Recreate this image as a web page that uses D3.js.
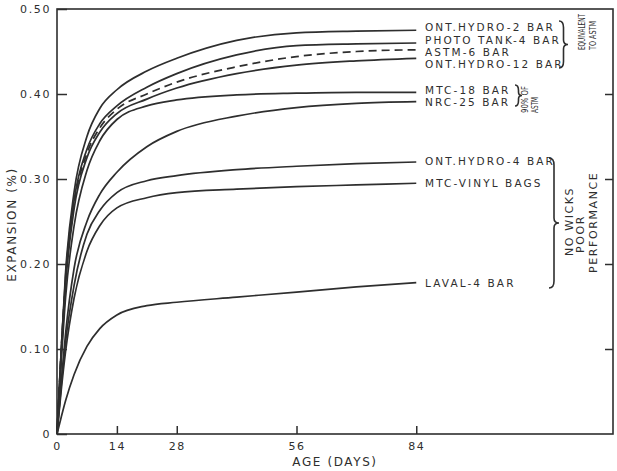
<!DOCTYPE html>
<html><head><meta charset="utf-8">
<script src="https://cdn.jsdelivr.net/npm/d3@7"></script>
<style>body{margin:0;background:#fff}</style>
</head><body>
<svg id="c" width="617" height="471"></svg>
<script>
// ---- data ----
const days = [0, 1, 2, 4, 7, 10, 14, 21, 28, 42, 56, 70, 84];
const seriesNames = ["ONT.HYDRO-2 BAR","PHOTO TANK-4 BAR","ASTM-6 BAR","ONT.HYDRO-12 BAR","MTC-18 BAR","NRC-25 BAR","ONT.HYDRO-4 BAR","MTC-VINYL BAGS","LAVAL-4 BAR"];
const ontHydro2  = [0, 0.100, 0.190, 0.285, 0.350, 0.383, 0.405, 0.427, 0.442, 0.463, 0.472, 0.474, 0.475];
const photoTank4 = [0, 0.100, 0.185, 0.275, 0.335, 0.365, 0.386, 0.408, 0.424, 0.446, 0.457, 0.459, 0.460];
const astm6      = [0, 0.100, 0.180, 0.270, 0.330, 0.360, 0.382, 0.400, 0.414, 0.432, 0.444, 0.450, 0.452];
const ontHydro12 = [0, 0.095, 0.175, 0.265, 0.325, 0.355, 0.377, 0.394, 0.407, 0.424, 0.434, 0.439, 0.442];
const mtc18      = [0, 0.085, 0.160, 0.245, 0.310, 0.345, 0.370, 0.386, 0.393, 0.399, 0.401, 0.402, 0.402];
const nrc25      = [0, 0.062, 0.118, 0.195, 0.250, 0.282, 0.308, 0.338, 0.356, 0.374, 0.384, 0.389, 0.391];
const ontHydro4  = [0, 0.058, 0.108, 0.175, 0.235, 0.263, 0.284, 0.298, 0.304, 0.311, 0.315, 0.318, 0.320];
const mtcVinyl   = [0, 0.052, 0.097, 0.160, 0.215, 0.245, 0.266, 0.278, 0.284, 0.288, 0.291, 0.293, 0.295];
const laval4     = [0, 0.020, 0.039, 0.070, 0.103, 0.124, 0.140, 0.151, 0.155, 0.161, 0.167, 0.173, 0.178];
const seriesValues = [ontHydro2, photoTank4, astm6, ontHydro12, mtc18, nrc25, ontHydro4, mtcVinyl, laval4];
const dashedSeries = ["ASTM-6 BAR"];
const xTicks = [0, 14, 28, 56, 84];
const yTicks = [0, 0.10, 0.20, 0.30, 0.40, 0.50];
const xTitle = "AGE (DAYS)";
const yTitle = "EXPANSION (%)";
const groupNotes = [
  {lines: ["EQUIVALENT", "TO ASTM"]},
  {lines: ["90% OF", "ASTM"]},
  {lines: ["NO WICKS", "POOR", "PERFORMANCE"]}
];

// ---- layout ----
const ink = "#2e2e2e";
const font = "'DejaVu Sans', sans-serif";
const svg = d3.select("#c");
const x = d3.scaleLinear().domain([0, 130]).range([57, 613]);
const y = d3.scaleLinear().domain([0, 0.5]).range([434, 9]);

// frame
svg.append("rect").attr("x", x(0)).attr("y", y(0.5))
  .attr("width", x(130) - x(0)).attr("height", y(0) - y(0.5))
  .attr("fill", "none").attr("stroke", ink).attr("stroke-width", 1.6);

function styleAxis(g) {
  g.select(".domain").remove();
  g.selectAll("line").attr("stroke", ink).attr("stroke-width", 1.5);
  g.selectAll("text").attr("fill", ink).attr("font-family", font)
    .attr("font-size", 11).attr("letter-spacing", 1.6);
}

svg.append("g").attr("transform", `translate(${x(0)},0)`)
  .call(d3.axisLeft(y).tickValues(yTicks).tickSize(-10).tickPadding(6)
    .tickFormat(d => d === 0 ? "0" : d3.format(".2f")(d)))
  .call(styleAxis);

svg.append("g").attr("transform", `translate(${x(130)},0)`)
  .call(d3.axisRight(y).tickValues(yTicks.filter(v => v > 0 && v < 0.5)).tickSize(-8).tickFormat(""))
  .call(styleAxis);

svg.append("g").attr("transform", `translate(0,${y(0)})`)
  .call(d3.axisBottom(x).tickValues(xTicks).tickSize(-8).tickPadding(8))
  .call(styleAxis);

// axis titles
svg.append("text").attr("x", (x(0) + x(130)) / 2).attr("y", 466).attr("text-anchor", "middle")
  .attr("font-family", font).attr("font-size", 12).attr("letter-spacing", 1.6)
  .attr("fill", ink).text(xTitle);
svg.append("text").attr("transform", `translate(16,${(y(0) + y(0.5)) / 2 + 3}) rotate(-90)`)
  .attr("text-anchor", "middle").attr("font-family", font).attr("font-size", 12)
  .attr("letter-spacing", 1.6).attr("fill", ink).text(yTitle);

// curves
const line = d3.line().x(d => x(d[0])).y(d => y(d[1])).curve(d3.curveMonotoneX);
seriesNames.forEach((name, i) => {
  const pts = days.map((dd, j) => [dd, seriesValues[i][j]]);
  svg.append("path").datum(pts).attr("d", line)
    .attr("fill", "none").attr("stroke", ink).attr("stroke-width", 1.7)
    .attr("stroke-dasharray", dashedSeries.includes(name) ? "8,5" : null);
});

// series labels
const labelY = [27, 40, 52, 64, 90, 102, 161, 183, 283];
seriesNames.forEach((name, i) => {
  svg.append("text").attr("x", 425).attr("y", labelY[i]).attr("dy", "0.36em")
    .attr("font-family", font).attr("font-size", 10.5).attr("letter-spacing", 2.1)
    .attr("fill", ink).text(name);
});

// braces
function bracePath(bx, y1, y2, w) {
  const ym = (y1 + y2) / 2, h = w / 2;
  return `M${bx},${y1} Q${bx + h},${y1} ${bx + h},${y1 + h + 2} L${bx + h},${ym - h}` +
    ` Q${bx + h},${ym} ${bx + w},${ym} Q${bx + h},${ym} ${bx + h},${ym + h}` +
    ` L${bx + h},${y2 - h - 2} Q${bx + h},${y2} ${bx},${y2}`;
}
const braces = [[559, 21, 68, 9], [515, 85, 106, 7], [549, 158, 288, 10]];
braces.forEach(b => svg.append("path").attr("d", bracePath(...b))
  .attr("fill", "none").attr("stroke", ink).attr("stroke-width", 1.6));

// group notes (rotated): [baseline x, start y, condensed length (0 = natural), font size]
const notePos = [
  [[585, 50, 36, 9.5], [596, 50, 29, 9.5]],
  [[528, 113, 27, 9.5], [538, 113, 16, 9.5]],
  [[573, 256, 0, 11], [584, 253, 0, 11], [597, 273, 0, 11]]
];
groupNotes.forEach((g, gi) => {
  g.lines.forEach((t, li) => {
    const [tx, ty, len, fs] = notePos[gi][li];
    const el = svg.append("text").attr("transform", `translate(${tx},${ty}) rotate(-90)`)
      .attr("font-family", font).attr("font-size", fs).attr("fill", ink)
      .attr("letter-spacing", len ? 0 : 1.6).text(t);
    if (len) el.attr("textLength", len).attr("lengthAdjust", "spacingAndGlyphs");
  });
});
</script>
</body></html>
